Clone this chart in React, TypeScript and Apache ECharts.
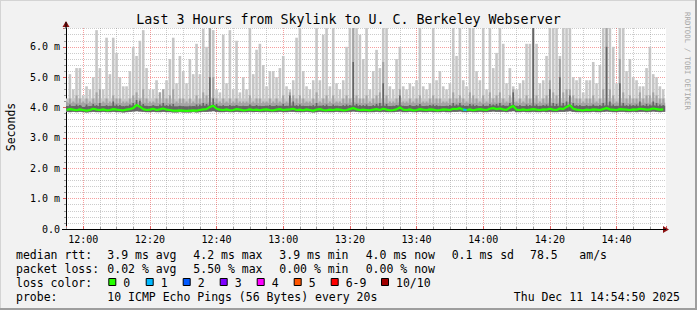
import React, { useEffect, useRef } from "react";
import * as echarts from "echarts";

// Time window: 11:54:50 .. 14:54:50 (minutes of day)
const START_MINUTE = 714 + 50 / 60;
const END_MINUTE = START_MINUTE + 180;
const FIRST_SAMPLE = 715; // first one-minute sample at 11:55

// RTT values in ms, one sample per minute
const minRtt = [
  3.86, 3.85, 3.86, 3.85, 3.86, 3.85, 3.84, 3.85, 3.86, 3.85,
  3.85, 3.86, 3.85, 3.85, 3.86, 3.85, 3.85, 3.84, 3.85, 3.86,
  3.87, 3.88, 3.87, 3.86, 3.85, 3.85, 3.86, 3.85, 3.85, 3.86,
  3.85, 3.85, 3.84, 3.84, 3.85, 3.84, 3.84, 3.84, 3.85, 3.84,
  3.85, 3.86, 3.86, 3.87, 3.88, 3.86, 3.85, 3.85, 3.86, 3.85,
  3.85, 3.86, 3.85, 3.85, 3.85, 3.86, 3.85, 3.85, 3.85, 3.85,
  3.86, 3.85, 3.85, 3.85, 3.86, 3.85, 3.85, 3.86, 3.86, 3.85,
  3.85, 3.85, 3.86, 3.85, 3.84, 3.85, 3.86, 3.85, 3.85, 3.85,
  3.85, 3.86, 3.85, 3.85, 3.85, 3.86, 3.87, 3.86, 3.85, 3.85,
  3.85, 3.85, 3.85, 3.86, 3.85, 3.86, 3.85, 3.85, 3.85, 3.86,
  3.87, 3.85, 3.85, 3.86, 3.85, 3.85, 3.86, 3.85, 3.85, 3.86,
  3.85, 3.85, 3.85, 3.86, 3.85, 3.85, 3.86, 3.86, 3.87, 3.85,
  3.85, 3.86, 3.85, 3.85, 3.86, 3.85, 3.85, 3.86, 3.87, 3.86,
  3.86, 3.86, 3.85, 3.87, 3.88, 3.85, 3.85, 3.86, 3.85, 3.85,
  3.86, 3.85, 3.85, 3.86, 3.85, 3.86, 3.85, 3.85, 3.86, 3.86,
  3.87, 3.88, 3.86, 3.85, 3.85, 3.85, 3.85, 3.85, 3.86, 3.85,
  3.85, 3.86, 3.87, 3.86, 3.85, 3.85, 3.86, 3.86, 3.85, 3.85,
  3.86, 3.85, 3.86, 3.86, 3.85, 3.86, 3.87, 3.86, 3.85, 3.86,
];

const median = [
  3.92, 3.95, 3.93, 3.91, 3.94, 3.92, 3.9, 3.92, 3.96, 3.93,
  3.92, 3.94, 3.91, 3.92, 3.95, 3.93, 3.92, 3.91, 3.93, 3.95,
  3.98, 4.08, 4.03, 3.95, 3.92, 3.93, 3.96, 3.92, 3.94, 3.97,
  3.93, 3.92, 3.9, 3.9, 3.91, 3.9, 3.89, 3.9, 3.91, 3.9,
  3.92, 3.94, 3.95, 4.02, 4.06, 3.96, 3.93, 3.92, 3.94, 3.91,
  3.92, 3.95, 3.93, 3.91, 3.92, 3.94, 3.92, 3.93, 3.91, 3.93,
  3.94, 3.92, 3.91, 3.93, 3.95, 3.92, 3.93, 3.94, 3.96, 3.92,
  3.93, 3.91, 3.94, 3.92, 3.9, 3.93, 3.95, 3.92, 3.91, 3.93,
  3.92, 3.94, 3.93, 3.91, 3.92, 3.95, 3.98, 3.94, 3.92, 3.93,
  3.92, 3.91, 3.93, 3.95, 3.92, 3.96, 3.93, 3.91, 3.92, 3.94,
  4.0, 3.93, 3.92, 3.94, 3.91, 3.92, 3.95, 3.93, 3.92, 3.94,
  3.93, 3.91, 3.92, 3.94, 3.93, 3.92, 3.96, 3.95, 3.98, 3.93,
  3.92, 3.94, 3.91, 3.93, 3.95, 3.93, 3.92, 3.96, 3.98, 3.95,
  3.97, 3.94, 3.92, 4.0, 4.05, 3.93, 3.92, 3.94, 3.92, 3.93,
  3.95, 3.93, 3.92, 3.94, 3.93, 3.96, 3.93, 3.92, 3.97, 3.95,
  4.02, 4.08, 3.96, 3.93, 3.92, 3.91, 3.93, 3.92, 3.94, 3.93,
  3.92, 3.95, 3.98, 3.94, 3.93, 3.92, 3.95, 3.94, 3.93, 3.92,
  3.94, 3.93, 3.96, 3.95, 3.93, 3.94, 3.97, 3.95, 3.93, 3.94,
];

const darkTop = [
  4.05, 4.1, 4.05, 4.1, 4.08, 4.02, 4.1, 4.05, 4.12, 4.08,
  4.15, 4.05, 4.08, 4.06, 4.2, 4.1, 4.08, 4.05, 4.06, 4.1,
  4.15, 4.25, 4.22, 4.12, 4.06, 4.05, 4.08, 4.05, 4.1, 4.15,
  4.08, 4.1, 4.12, 4.04, 4.06, 4.05, 4.04, 4.06, 4.05, 4.1,
  4.1, 4.15, 4.12, 5.0, 4.3, 4.12, 4.06, 4.08, 4.05, 4.08,
  4.06, 4.08, 4.05, 4.06, 4.05, 4.1, 4.05, 4.08, 4.06, 4.05,
  4.06, 4.08, 4.05, 4.08, 4.06, 4.12, 4.06, 4.4, 4.2, 4.08,
  4.1, 4.06, 4.05, 4.06, 4.08, 4.15, 4.06, 4.08, 4.1, 4.05,
  4.1, 4.06, 4.05, 4.08, 4.1, 4.08, 5.5, 4.12, 4.08, 4.08,
  4.1, 4.05, 4.08, 4.12, 4.15, 4.8, 4.12, 4.05, 4.06, 4.08,
  4.4, 4.06, 4.05, 4.08, 4.05, 4.08, 4.12, 4.05, 4.06, 4.08,
  4.1, 4.08, 4.06, 4.05, 4.06, 4.08, 4.15, 4.1, 4.15, 4.08,
  4.06, 4.12, 4.1, 4.08, 4.05, 4.1, 4.06, 4.12, 4.1, 4.12,
  4.15, 4.08, 4.06, 4.15, 4.5, 4.06, 4.08, 4.05, 4.1, 4.08,
  6.7, 4.1, 4.06, 4.08, 4.1, 4.6, 4.15, 4.12, 5.0, 4.15,
  4.2, 4.4, 4.15, 4.08, 4.08, 4.05, 4.08, 4.06, 4.1, 4.06,
  4.08, 4.15, 6.0, 4.2, 4.1, 4.06, 4.8, 4.15, 4.08, 4.1,
  4.08, 4.1, 4.2, 4.08, 4.12, 4.1, 4.2, 4.15, 4.1, 4.08,
];

const midTop = [
  4.2, 4.3, 4.2, 4.4, 4.3, 4.2, 4.3, 4.2, 4.3, 4.5,
  4.6, 4.2, 4.3, 4.2, 4.4, 4.3, 4.3, 4.2, 4.2, 4.3,
  4.4, 4.5, 4.3, 4.6, 4.3, 4.2, 4.2, 4.3, 4.5, 4.6,
  4.3, 4.4, 4.6, 4.2, 4.3, 4.3, 4.2, 4.3, 4.2, 4.4,
  4.3, 4.5, 4.4, 6.7, 5.0, 4.3, 4.2, 4.3, 4.2, 4.3,
  4.2, 4.3, 4.2, 4.2, 4.2, 4.4, 4.2, 4.3, 4.3, 4.2,
  4.2, 4.3, 4.2, 4.3, 4.2, 4.4, 4.2, 4.5, 4.4, 4.3,
  4.4, 4.3, 4.2, 4.2, 4.3, 4.5, 4.2, 4.3, 4.4, 4.2,
  4.4, 4.2, 4.2, 4.3, 4.4, 4.3, 6.7, 4.4, 4.3, 4.3,
  4.4, 4.2, 4.3, 4.4, 4.5, 5.5, 4.4, 4.2, 4.2, 4.3,
  4.6, 4.2, 4.2, 4.3, 4.2, 4.3, 4.4, 4.2, 4.2, 4.3,
  4.4, 4.3, 4.3, 4.2, 4.2, 4.3, 4.5, 4.3, 4.4, 4.3,
  4.2, 4.5, 4.4, 4.3, 4.2, 4.4, 4.2, 4.5, 4.3, 4.4,
  4.5, 4.3, 4.2, 4.4, 4.6, 4.2, 4.3, 4.2, 4.4, 4.3,
  6.7, 4.4, 4.2, 4.3, 4.4, 4.9, 4.5, 4.4, 5.6, 4.5,
  4.6, 4.6, 4.4, 4.3, 4.3, 4.2, 4.3, 4.3, 4.4, 4.2,
  4.3, 4.6, 6.7, 4.6, 4.4, 4.2, 5.6, 4.5, 4.3, 4.4,
  4.3, 4.3, 4.5, 4.3, 4.4, 4.4, 4.5, 4.4, 4.3, 4.3,
];

const maxRtt = [
  4.3, 5.1, 4.6, 5.3, 5.3, 4.4, 4.7, 4.6, 5.0, 6.55,
  5.3, 4.6, 6.3, 5.1, 6.3, 5.8, 5.0, 4.7, 4.7, 5.2,
  6.0, 5.7, 6.2, 6.55, 5.3, 4.6, 4.6, 4.9, 4.5, 4.6,
  4.9, 5.6, 6.3, 4.8, 5.7, 5.2, 4.8, 5.6, 5.1, 6.1,
  5.1, 6.6, 6.0, 6.7, 6.55, 4.6, 4.5, 6.4, 4.8, 6.55,
  4.6, 6.2, 4.5, 5.0, 4.6, 6.7, 5.1, 5.9, 6.1, 5.4,
  4.7, 5.2, 5.2, 5.0, 5.3, 5.7, 4.7, 4.6, 4.9, 6.3,
  6.7, 5.2, 4.7, 4.6, 4.9, 6.7, 4.9, 6.4, 6.7, 4.7,
  6.7, 4.8, 4.6, 4.9, 6.0, 6.7, 6.7, 6.7, 6.4, 5.6,
  6.7, 4.6, 5.2, 5.9, 5.3, 6.7, 6.7, 4.7, 4.6, 5.6,
  6.0, 4.7, 4.6, 4.8, 4.7, 4.9, 6.7, 4.7, 4.6, 4.8,
  6.7, 4.9, 5.2, 4.7, 4.6, 4.8, 6.7, 5.7, 6.7, 4.9,
  4.7, 6.7, 6.7, 5.2, 4.9, 6.7, 4.6, 6.7, 5.3, 5.8,
  6.7, 6.1, 4.8, 5.3, 4.7, 4.6, 4.8, 4.9, 6.1, 6.1,
  6.7, 6.1, 4.8, 4.9, 5.7, 6.7, 6.7, 6.7, 5.7, 6.7,
  6.7, 6.7, 5.0, 4.9, 5.0, 4.5, 4.9, 4.9, 5.5, 4.8,
  5.4, 6.7, 6.7, 6.7, 6.0, 4.8, 6.7, 6.7, 5.2, 5.6,
  5.0, 4.9, 4.7, 4.7, 5.3, 6.0, 5.1, 5.0, 4.7, 4.6,
];

// [sample index, lost pings]
const lossEvents = [[119, 1]];

const rttStats = ["3.9 ms avg", "4.2 ms max", "3.9 ms min", "4.0 ms now", "0.1 ms sd", "78.5", "am/s"];
const lossStats = ["0.02 % avg", "5.50 % max", "0.00 % min", "0.00 % now"];
const lossLabels = ["0", "1", "2", "3", "4", "5", "6-9", "10/10"];
const lossColors = ["#26ff00", "#00b8ff", "#0059ff", "#7e00ff", "#ff00ff", "#ff5500", "#ff0000", "#a10000"];
const titleText = "Last 3 Hours from Skylink to U. C. Berkeley Webserver";
const probeText = "10 ICMP Echo Pings (56 Bytes) every 20s";
const dateText = "Thu Dec 11 14:54:50 2025";

const MONO = "'DejaVu Sans Mono', monospace";

export default function App() {
  const ref = useRef<HTMLDivElement>(null);
  useEffect(() => {
    if (!ref.current) return;
    const chart = echarts.init(ref.current, null, { renderer: "svg" });
    const xs = median.map((_, i) => FIRST_SAMPLE + i);
    const pair = (arr: number[]) => arr.map((v, i) => [xs[i], v]);

    // smoke band: a full-width base from minRtt up to a small cap, and a narrower spike above it
    const band = (arr: number[], color: string, z: number, capMs: number, spikeW: number) => ({
      type: "custom", silent: true, clip: true, z,
      data: arr.map((v, i) => [xs[i], minRtt[i], v]),
      renderItem: (_params: any, api: any) => {
        const x = api.value(0), lo = api.value(1), hi = api.value(2);
        const capTop = Math.min(hi, lo + capMs);
        const a = api.coord([x - 0.5, capTop]);
        const b = api.coord([x + 0.5, lo]);
        const children: any[] = [{
          type: "rect",
          shape: { x: a[0], y: a[1], width: b[0] - a[0] + 0.3, height: b[1] - a[1] },
          style: { fill: color },
        }];
        if (hi > capTop) {
          const c = api.coord([x, hi]);
          children.push({
            type: "rect",
            shape: { x: c[0] - spikeW / 2, y: c[1], width: spikeW, height: a[1] - c[1] + 0.5 },
            style: { fill: color },
          });
        }
        return { type: "group", children };
      },
    });

    const lossSeries = lossEvents.map(([idx, lost]) => ({
      type: "line", symbol: "none", silent: true, z: 7,
      data: [[xs[idx], median[idx]], [xs[idx + 1], median[idx + 1]]],
      lineStyle: { color: lossColors[lost], width: 2.2 },
    }));

    const pad = (n: number) => (n < 10 ? "0" + n : "" + n);
    const legendRowY = [254.5, 268.5, 282.5, 296.5];
    const statX = [107.3, 193.3, 279.3, 365.7, 451.7, 530, 579.3];
    const boxX = [108.3, 145.7, 182.7, 219.7, 256.7, 293.7, 330.7, 381];
    const txt = (x: number, y: number, text: string, extra: any = {}) => ({
      type: "text", x, y, silent: true,
      style: { text, fill: "#000", font: `11.5px ${MONO}`, textVerticalAlign: "middle", ...extra },
    });

    const graphics: any[] = [
      { type: "rect", shape: { x: 0, y: 0, width: 697, height: 1 }, style: { fill: "#d4d4d4" }, silent: true },
      { type: "rect", shape: { x: 0, y: 0, width: 1, height: 310 }, style: { fill: "#d4d4d4" }, silent: true },
      { type: "rect", shape: { x: 695, y: 0, width: 2, height: 310 }, style: { fill: "#9e9e9e" }, silent: true },
      { type: "rect", shape: { x: 0, y: 308, width: 697, height: 2 }, style: { fill: "#9e9e9e" }, silent: true },
      { type: "text", x: 348.5, y: 19, silent: true,
        style: { text: titleText, fill: "#000", font: `13.3px ${MONO}`, textAlign: "center", textVerticalAlign: "middle" } },
      { type: "text", x: 10.5, y: 127, rotation: Math.PI / 2, silent: true,
        style: { text: "Seconds", fill: "#000", font: `11.5px ${MONO}`, textAlign: "center", textVerticalAlign: "middle" } },
      { type: "text", x: 687, y: 61, rotation: -Math.PI / 2, silent: true,
        style: { text: "RRDTOOL / TOBI OETIKER", fill: "#a8a8a8", font: `7.4px ${MONO}`, textAlign: "center", textVerticalAlign: "middle" } },
      // axis arrows
      { type: "polygon", z: 100, shape: { points: [[663, 226], [669, 229.5], [663, 233]] }, style: { fill: "#8b1212" }, silent: true },
      { type: "polygon", z: 100, shape: { points: [[62.5, 27], [66, 21], [69.5, 27]] }, style: { fill: "#8b1212" }, silent: true },
      { type: "line", z: 100, shape: { x1: 66, y1: 22, x2: 66, y2: 28 }, style: { stroke: "#000", lineWidth: 1 }, silent: true },
      { type: "line", z: 100, shape: { x1: 62, y1: 229.5, x2: 666, y2: 229.5 }, style: { stroke: "#000", lineWidth: 1 }, silent: true },
      txt(16, legendRowY[0], "median rtt:"),
      txt(16, legendRowY[1], "packet loss:"),
      txt(16, legendRowY[2], "loss color:"),
      txt(16, legendRowY[3], "probe:"),
      ...rttStats.map((s, i) => txt(statX[i], legendRowY[0], s)),
      ...lossStats.map((s, i) => txt(statX[i], legendRowY[1], s)),
      ...lossLabels.flatMap((lab, i) => [
        { type: "rect", silent: true, shape: { x: boxX[i] + 0.5, y: 278.5, width: 7, height: 7 },
          style: { fill: lossColors[i], stroke: "#000", lineWidth: 1 } },
        txt(boxX[i] + 15, legendRowY[2], lab),
      ]),
      txt(107.3, legendRowY[3], probeText),
      txt(680, legendRowY[3], dateText, { textAlign: "right" }),
    ];

    chart.setOption({
      animation: false,
      backgroundColor: "#f2f2f2",
      grid: { left: 66, right: 31, top: 28, bottom: 81, show: true, backgroundColor: "#ffffff", borderWidth: 0 },
      xAxis: {
        type: "value", min: START_MINUTE, max: END_MINUTE, minInterval: 20, maxInterval: 20,
        axisLine: { show: true, lineStyle: { color: "#000", width: 1 } },
        axisTick: { show: true, inside: true, length: 3, lineStyle: { color: "#e06060" } },
        minorTick: { show: true, splitNumber: 4, length: 2, lineStyle: { color: "#999" } },
        splitLine: { show: true, showMinLine: false, showMaxLine: false, lineStyle: { color: "rgba(230,0,0,0.38)", type: [1, 1], width: 1 } },
        minorSplitLine: { show: true, lineStyle: { color: "rgba(120,120,120,0.38)", type: [1, 1], width: 1 } },
        axisLabel: {
          showMinLabel: false, showMaxLabel: false, margin: 5,
          fontFamily: "DejaVu Sans Mono", fontSize: 10, color: "#000",
          formatter: (v: number) => {
            const r = Math.round(v);
            if (Math.abs(v - r) > 1e-6 || r % 20 !== 0) return "";
            return `${Math.floor(r / 60)}:${pad(r % 60)}`;
          },
        },
      },
      yAxis: {
        type: "value", min: 0, max: 6.62, interval: 1,
        axisLine: { show: true, lineStyle: { color: "#000", width: 1 } },
        axisTick: { show: true, length: 3, lineStyle: { color: "#e06060" } },
        minorTick: { show: true, splitNumber: 5, length: 2, lineStyle: { color: "#999" } },
        splitLine: { show: true, showMaxLine: false, lineStyle: { color: "rgba(230,0,0,0.38)", type: [1, 1], width: 1 } },
        minorSplitLine: { show: true, lineStyle: { color: "rgba(120,120,120,0.38)", type: [1, 1], width: 1 } },
        axisLabel: {
          margin: 6, fontFamily: "DejaVu Sans Mono", fontSize: 10, color: "#000",
          formatter: (v: number) => {
            const r = Math.round(v);
            if (Math.abs(v - r) > 1e-6) return "";
            return r === 0 ? "0.0" : `${r.toFixed(1)} m`;
          },
        },
      },
      series: [
        band(maxRtt, "#c6c6c6", 3, 0.45, 2.6),
        band(midTop, "#a4a4a4", 4, 0.3, 2.0),
        band(darkTop, "#656565", 5, 0.2, 1.6),
        { type: "line", data: pair(median), symbol: "none", silent: true, z: 6,
          lineStyle: { color: lossColors[0], width: 2.2 } },
        ...lossSeries,
      ],
      graphic: graphics,
    });
    return () => chart.dispose();
  }, []);
  return <div ref={ref} style={{ position: "fixed", left: 0, top: 0, width: 697, height: 310 }} />;
}
